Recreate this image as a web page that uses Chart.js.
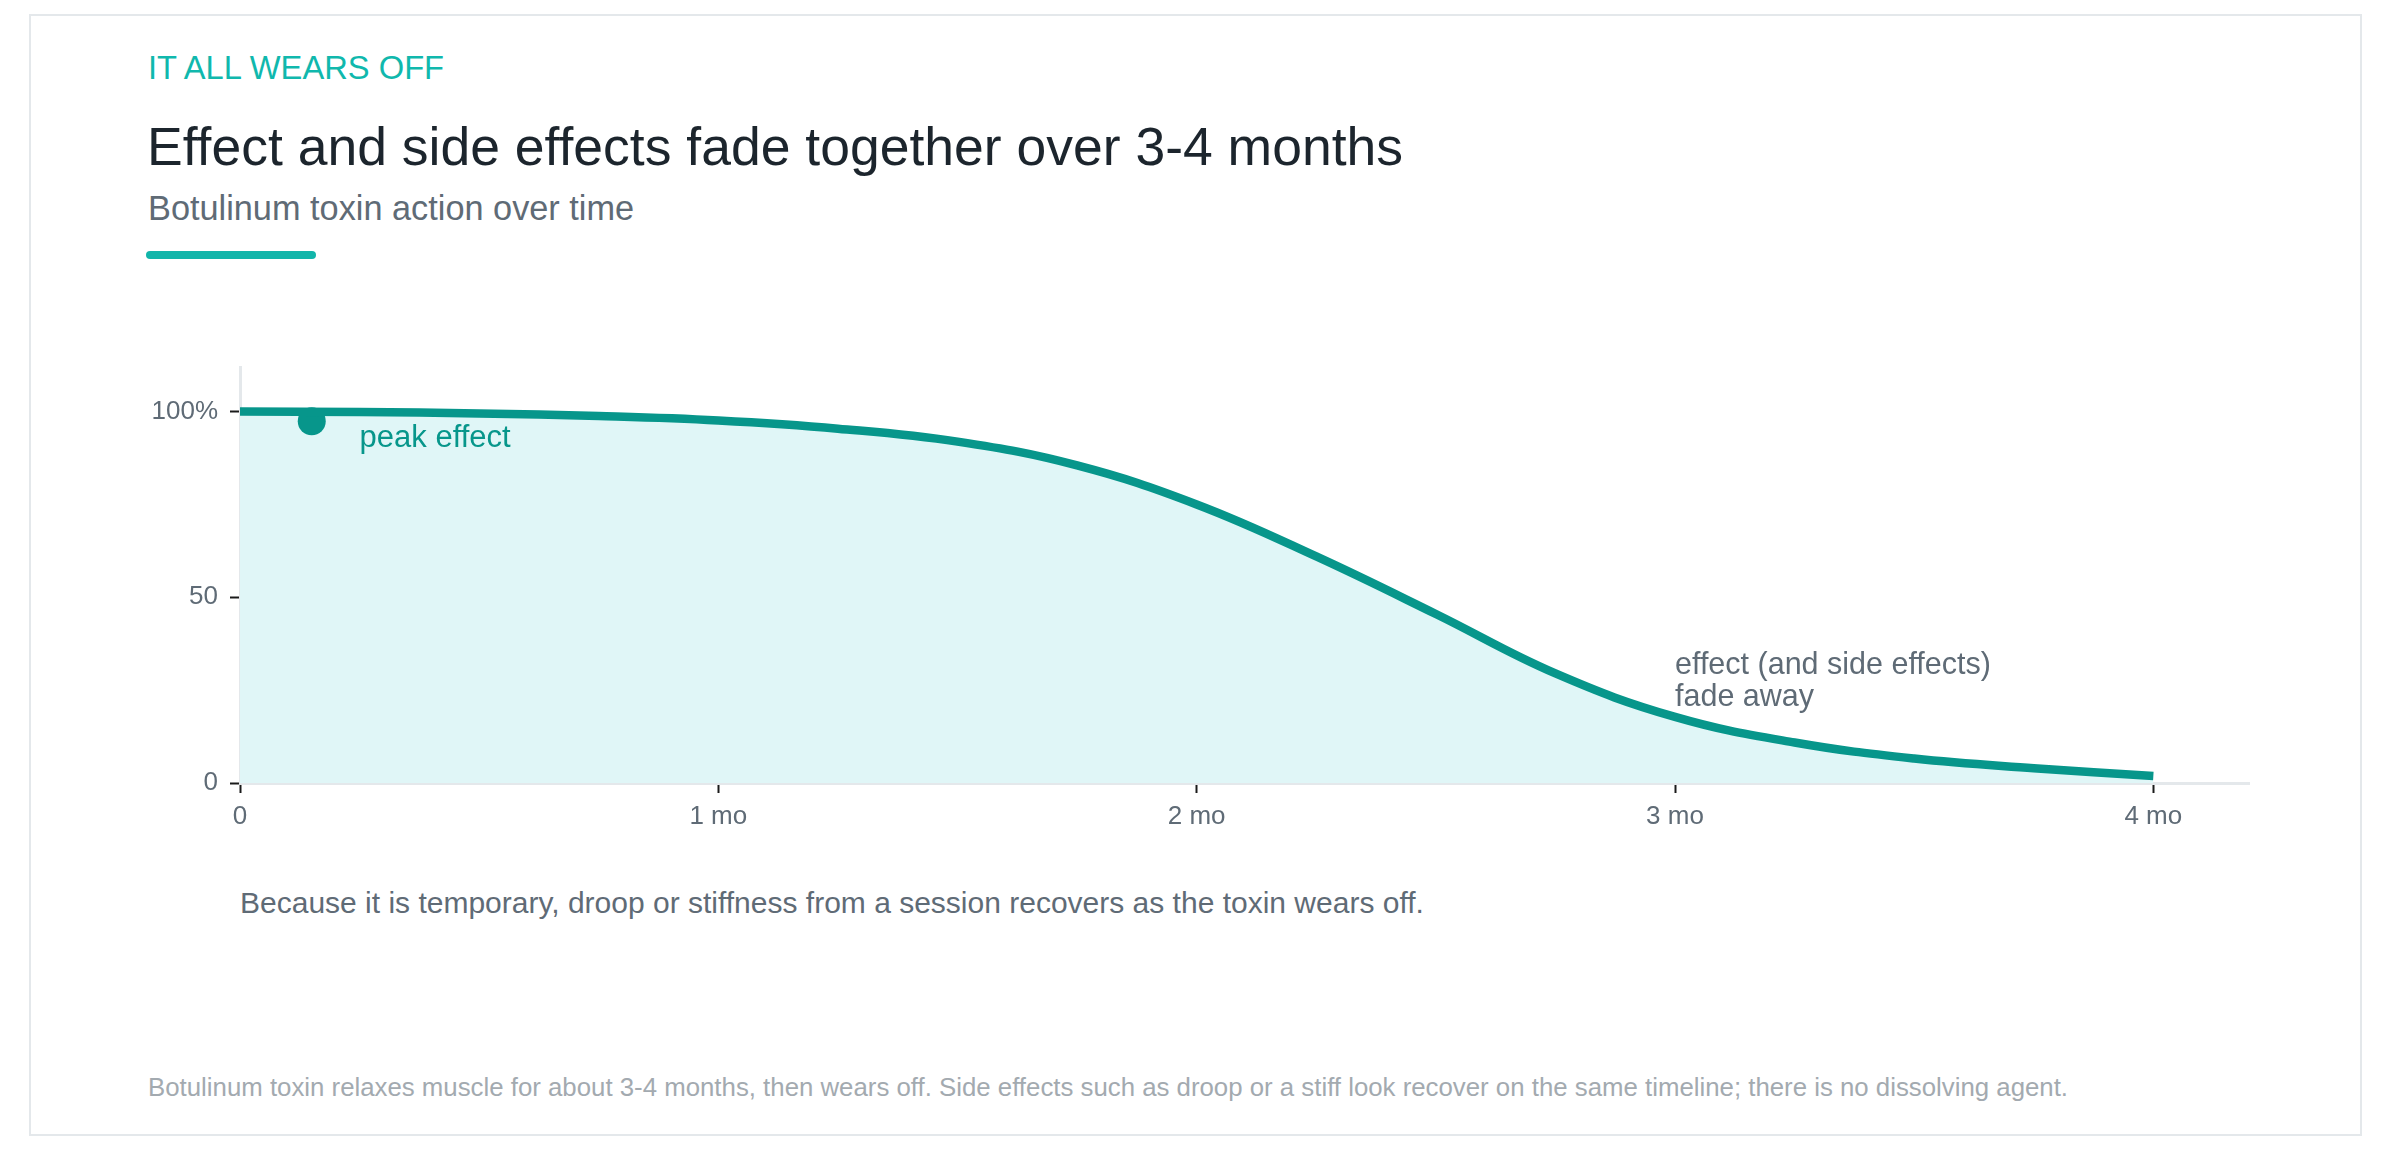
<!DOCTYPE html>
<html>
<head>
<meta charset="utf-8">
<script src="https://cdn.jsdelivr.net/npm/chart.js@4.4.1/dist/chart.umd.min.js"></script>
<style>
    body { margin: 0; width: 2392px; height: 1150px; background: #fff; position: relative; overflow: hidden;
           font-family: "Liberation Sans", Arial, Helvetica, sans-serif; }
    .card { position: absolute; left: 29px; top: 14px; width: 2333px; height: 1122px; box-sizing: border-box;
            border: 2px solid #e4e8eb; }
    .txt { position: absolute; white-space: nowrap; line-height: 1; }
    #kicker { left: 148px; top: 52px; font-size: 32.7px; color: #10b8ad; }
    #title { left: 147px; top: 120px; font-size: 53.5px; color: #1c252d; }
    #subtitle { left: 148px; top: 191px; font-size: 34.3px; color: #5f6b76; }
    #accent { position: absolute; left: 146px; top: 251px; width: 170px; height: 8px; border-radius: 4px; background: #12b5aa; }
    #note { left: 240px; top: 888px; font-size: 30px; color: #5f6b76; }
    #footer { left: 148px; top: 1075px; font-size: 25.8px; color: #a3aab0; }
    #chart { position: absolute; left: 100px; top: 330px; }
</style>
</head>
<body>
<div class="card"></div>
<div class="txt" id="kicker">IT ALL WEARS OFF</div>
<div class="txt" id="title">Effect and side effects fade together over 3-4 months</div>
<div class="txt" id="subtitle">Botulinum toxin action over time</div>
<div id="accent"></div>
<canvas id="chart" width="2200" height="540"></canvas>
<div class="txt" id="note">Because it is temporary, droop or stiffness from a session recovers as the toxin wears off.</div>
<div class="txt" id="footer">Botulinum toxin relaxes muscle for about 3-4 months, then wears off. Side effects such as droop or a stiff look recover on the same timeline; there is no dissolving agent.</div>

<script>
// values (months after injection, % of effect)
const months = [0, 0.25, 0.5, 0.75, 1, 1.25, 1.5, 1.75, 2, 2.25, 2.5, 2.75, 3, 3.25, 3.5, 3.75, 4];
const effect = [100, 99.9, 99.5, 98.8, 97.6, 95.4, 91.9, 85.5, 75.0, 61.0, 45.5, 29.5, 17.8, 10.9, 6.6, 4.0, 1.9];

const peakMonth = [0.15];
const peakValue = [97.4];

const xTicks = [0, 1, 2, 3, 4];
const xTickLabels = ['0', '1 mo', '2 mo', '3 mo', '4 mo'];
const yTicks = [0, 50, 100];
const yTickLabels = ['0', '50', '100%'];

const peakLabel = ['peak effect'];
const fadeLabel = ['effect (and side effects)', 'fade away'];

const FONT = '"Liberation Sans", Arial, Helvetica, sans-serif';
const TEAL = '#07968b';

// text notes placed in data units
const notesPlugin = {
    id: 'notes',
    afterDatasetsDraw(chart) {
        const ctx = chart.ctx;
        const x = chart.scales.x;
        const y = chart.scales.y;
        ctx.save();
        ctx.textAlign = 'left';
        ctx.textBaseline = 'alphabetic';
        ctx.font = '31px ' + FONT;
        ctx.fillStyle = TEAL;
        ctx.fillText(peakLabel[0], x.getPixelForValue(0.25), y.getPixelForValue(90.5));
        ctx.font = '30.5px ' + FONT;
        ctx.fillStyle = '#5f6b76';
        fadeLabel.forEach((line, i) => {
            ctx.fillText(line, x.getPixelForValue(3), y.getPixelForValue(29.4) + i * 32);
        });
        ctx.restore();
    }
};

const ctx = document.getElementById('chart').getContext('2d');
new Chart(ctx, {
    type: 'line',
    data: {
        datasets: [{
            data: months.map((m, i) => ({ x: m, y: effect[i] })),
            borderColor: TEAL,
            borderWidth: 8.5,
            backgroundColor: '#e0f6f7',
            fill: 'origin',
            pointRadius: 0,
            tension: 0.4,
            order: 0
        }, {
            data: peakMonth.map((m, i) => ({ x: m, y: peakValue[i] })),
            showLine: false,
            pointRadius: 14,
            pointBackgroundColor: TEAL,
            pointBorderWidth: 0,
            fill: false,
            order: 1
        }]
    },
    options: {
        responsive: false,
        animation: false,
        events: [],
        layout: { padding: { top: 37, right: 51, left: 0, bottom: 0 } },
        plugins: {
            legend: { display: false },
            tooltip: { enabled: false },
            filler: { drawTime: 'beforeDatasetsDraw' }
        },
        scales: {
            x: {
                type: 'linear',
                min: 0,
                max: 4.2,
                afterFit: s => { s.height = 87; },
                afterBuildTicks: s => { s.ticks = xTicks.map(v => ({ value: v })); },
                grid: { drawOnChartArea: false, tickLength: 10, tickColor: '#1a1a1a', tickWidth: 2 },
                border: { color: '#e4e8eb', width: 3 },
                ticks: {
                    padding: 8,
                    color: '#5f6b76',
                    font: { family: FONT, size: 26 },
                    callback: v => xTickLabels[xTicks.indexOf(v)]
                }
            },
            y: {
                min: 0,
                max: 112,
                afterFit: s => { s.width = 140; },
                afterBuildTicks: s => { s.ticks = yTicks.map(v => ({ value: v })); },
                grid: { drawOnChartArea: false, tickLength: 10, tickColor: '#1a1a1a', tickWidth: 2 },
                border: { color: '#e4e8eb', width: 3 },
                ticks: {
                    padding: 12,
                    color: '#5f6b76',
                    font: { family: FONT, size: 26 },
                    callback: v => yTickLabels[yTicks.indexOf(v)]
                }
            }
        }
    },
    plugins: [notesPlugin]
});
</script>
</body>
</html>
